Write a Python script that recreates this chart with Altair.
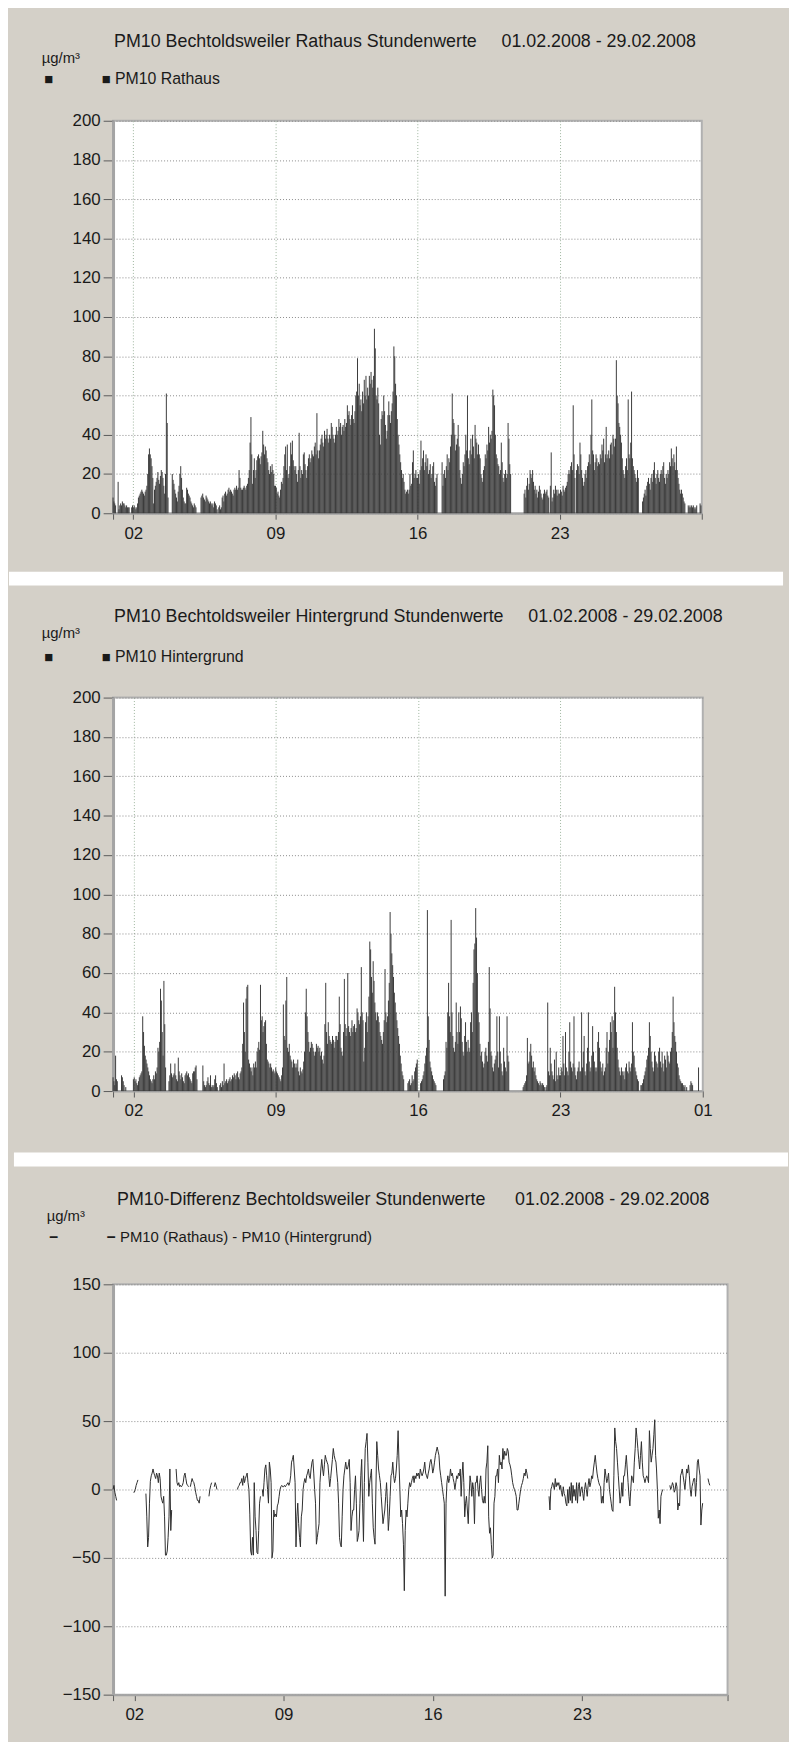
import altair as alt
import pandas as pd

# ---------------- data: hourly values, one list per day (Feb 1 ... Feb 29, 2008) ----------------
N = None
RATHAUS = [
    [8,6,5,4,N,N,16,2,4,5,4,6,5,5,4,3,4,3,3,3,N,N,3,4],
    [3,4,3,2,3,5,8,9,10,11,12,11,10,9,11,12,14,20,30,33,30,28,24,18],
    [5,12,14,16,18,21,17,15,19,22,21,18,14,10,20,61,46,8,N,N,N,N,20,17],
    [15,12,10,8,6,11,14,20,24,18,12,8,6,5,5,13,12,10,9,8,6,5,4,3],
    [5,4,3,N,N,N,N,N,8,9,10,8,7,6,9,8,7,6,5,6,5,4,5,3],
    [6,5,4,2,N,3,4,2,3,8,9,6,10,11,9,10,12,13,11,12,11,10,9,12],
    [13,12,14,12,13,22,18,13,12,12,13,14,13,12,14,15,18,22,36,49,30,15,22,28],
    [18,22,27,29,30,28,25,29,31,42,35,30,34,32,28,26,22,20,24,21,25,22,20,14],
    [14,13,10,11,9,8,12,16,15,18,24,30,34,22,35,18,20,24,36,30,37,27,24,22],
    [24,20,16,22,41,24,18,22,20,30,31,25,22,18,24,28,30,26,28,32,30,29,34,36],
    [30,51,32,28,32,35,38,40,36,34,42,38,40,43,38,36,40,38,46,44,40,38,36,40],
    [44,40,42,48,44,46,40,44,45,42,48,44,46,55,50,52,48,45,50,55,48,46,52,60],
    [62,79,60,66,55,58,52,62,56,68,60,70,58,64,60,70,66,72,68,64,70,94,84,60],
    [58,64,56,40,35,48,52,50,60,52,45,38,42,50,57,50,46,52,56,62,85,80,66,60],
    [48,40,35,30,26,22,18,20,16,12,10,11,12,10,12,20,14,15,26,32,18,20,22,18],
    [18,20,15,22,37,24,28,32,22,26,30,24,28,20,22,25,18,20,24,26,16,14,18,20],
    [N,N,N,N,N,26,14,20,22,18,24,30,22,28,26,34,40,61,48,46,40,32,35,38],
    [45,34,22,18,15,20,26,24,30,40,32,60,28,25,32,38,30,40,34,28,45,38,36,30],
    [35,30,28,20,18,16,22,24,30,28,35,32,44,36,40,38,42,63,60,55,40,30,28,25],
    [24,20,22,36,26,18,16,20,22,18,20,46,38,25,20,N,N,N,N,N,N,N,N,N],
    [N,N,N,N,N,N,10,12,8,14,18,12,15,22,20,18,22,16,12,14,10,12,8,11],
    [14,12,10,8,7,10,12,10,11,12,9,8,N,14,31,6,8,12,10,14,12,9,12,10],
    [10,12,11,9,14,12,11,13,14,16,20,22,20,24,26,22,55,30,18,N,22,25,24,20],
    [36,30,22,18,14,16,20,22,18,24,26,30,25,40,58,32,30,22,26,30,28,24,26,25],
    [30,28,35,32,38,26,30,44,28,30,32,28,35,36,30,40,38,34,38,78,60,56,46,44],
    [40,36,28,22,20,18,24,28,22,58,30,28,36,62,28,24,22,20,18,16,22,18,N,N],
    [N,N,6,8,10,12,9,14,16,18,15,12,18,20,16,22,26,18,15,20,22,18,16,20],
    [22,20,24,26,18,15,20,18,22,20,26,24,33,28,24,30,26,22,34,22,18,15,12,10],
    [12,10,8,6,5,N,N,N,4,3,4,3,4,3,4,3,2,3,4,N,N,N,5,4],
]
HINTERGRUND = [
    [7,5,3,18,6,5,N,N,N,N,8,7,5,3,N,2,N,N,N,N,N,N,N,N],
    [6,7,5,6,4,3,5,7,8,9,10,38,30,23,18,16,14,12,10,8,6,5,4,6],
    [8,6,10,9,12,22,20,25,52,46,30,18,56,34,12,N,N,N,5,8,14,9,7,8],
    [9,14,8,6,5,17,10,8,6,9,7,5,4,8,9,10,8,9,7,6,5,4,9,10],
    [10,12,13,6,N,N,N,N,N,N,13,5,3,2,3,5,7,4,3,8,2,3,2,3],
    [6,8,4,2,N,N,3,4,2,5,3,14,4,5,6,4,5,6,7,5,6,8,7,9],
    [8,6,9,10,7,6,9,10,12,24,45,30,20,47,53,54,16,14,12,10,12,8,14,12],
    [15,12,20,22,25,21,54,36,38,30,33,35,36,24,16,15,14,12,14,12,10,11,10,9],
    [12,10,9,8,7,6,5,8,12,44,28,26,46,58,22,20,24,18,16,15,12,16,14,12],
    [14,12,16,10,8,12,10,9,11,15,20,40,52,38,30,25,20,22,25,24,22,20,18,20],
    [24,22,23,20,22,18,20,16,14,18,34,55,30,24,35,28,26,25,24,28,26,22,25,28],
    [28,26,30,48,34,22,20,18,30,57,34,28,32,60,33,30,28,32,36,30,33,34,30,32],
    [42,40,36,34,38,63,40,36,15,22,35,40,30,38,48,76,72,58,50,66,56,45,40,36],
    [40,38,35,30,28,26,24,30,36,62,40,35,38,46,55,91,80,70,64,58,50,45,40,36],
    [32,28,24,18,14,10,8,6,N,N,N,N,4,5,6,3,4,8,5,6,10,12,14,16],
    [N,N,N,4,5,6,8,10,14,18,22,92,38,26,15,12,10,8,6,5,4,3,N,N],
    [N,N,N,N,N,N,6,8,10,25,22,40,55,38,30,87,40,28,22,20,25,45,30,24],
    [40,30,43,37,25,20,18,28,35,25,20,26,22,20,35,40,30,55,72,75,93,78,60,40],
    [35,24,18,20,15,12,14,20,22,18,15,25,63,42,20,18,12,10,14,16,18,38,20,12],
    [38,20,14,10,8,22,15,12,10,38,18,15,N,N,N,N,N,N,N,N,N,N,N,N],
    [N,N,N,N,2,3,4,5,8,27,14,15,20,24,18,12,15,10,12,8,6,5,4,3],
    [5,4,3,4,3,2,N,2,3,45,10,8,22,14,10,8,6,16,5,20,8,6,12,8],
    [8,12,10,28,14,8,30,12,10,8,20,35,15,12,10,14,38,12,8,6,10,12,15,10],
    [10,40,12,20,28,10,8,14,22,40,15,10,12,18,33,20,15,12,10,12,25,30,22,15],
    [12,10,14,8,10,12,22,30,14,20,26,35,30,38,22,36,53,40,30,22,16,12,10,8],
    [12,10,8,10,6,12,14,10,9,15,12,10,14,35,20,18,12,10,8,6,5,N,N,3],
    [3,4,6,8,10,12,16,18,22,35,28,20,15,12,10,20,18,15,14,12,20,22,15,12],
    [20,14,10,18,16,12,20,18,15,14,20,22,30,48,35,28,25,20,14,12,8,6,5,4],
    [4,3,2,3,N,2,N,N,N,3,5,4,3,N,N,N,N,N,N,12,N,N,N,N],
]
DIFFERENZ = [
    [0,3,-2,-5,-8,N,N,N,N,-3,N,N,N,N,N,N,N,N,N,N,N,N,N,-2],
    [-2,0,3,5,7,N,N,N,N,N,N,N,N,-3,-20,-42,-35,-10,6,10,12,15,12,10],
    [8,12,10,5,12,8,-5,-8,-10,-5,-20,-48,-48,-45,-35,-20,15,-30,-15,N,N,N,N,15],
    [5,3,5,2,3,2,3,5,10,12,8,4,3,2,N,2,5,8,6,5,2,-2,-5,-8],
    [-8,-10,-5,N,N,N,N,N,N,N,N,N,-5,0,3,5,N,N,2,5,3,0,N,N],
    [N,N,N,N,N,N,N,N,N,N,N,N,N,N,N,N,N,N,N,N,0,2,3,5],
    [5,8,3,10,5,8,10,12,5,0,-18,-45,-48,-35,-48,5,-20,-30,-46,-47,-30,-10,-5,N],
    [0,-5,5,15,18,10,0,-10,20,15,5,-50,-45,-15,-20,-18,-20,-12,-10,-5,0,2,3,2],
    [2,3,2,3,4,5,3,5,10,20,22,25,15,5,-42,-20,-10,-25,-35,-42,-20,-15,0,5],
    [8,5,10,12,15,10,8,15,20,22,12,0,-10,-40,-35,-30,-25,5,15,22,15,10,18,25],
    [22,20,18,10,2,8,15,22,30,25,22,20,12,5,-10,-35,-40,-42,-20,0,10,15,20,15],
    [15,18,22,5,-30,-20,-15,-15,0,10,-10,-38,-35,-30,-10,10,22,-10,-38,5,30,35,41,20],
    [-5,5,10,15,-10,-28,-35,-40,0,35,25,15,10,5,-5,-15,-25,-20,-15,-5,5,-10,-30,-20],
    [-5,10,12,20,10,5,8,15,25,43,20,0,-20,-15,-25,-40,-74,-30,-15,-20,-10,0,5,2],
    [5,8,10,5,10,8,12,10,12,8,15,12,10,12,15,20,12,10,8,12,15,20,22,18],
    [12,15,20,25,28,31,28,25,15,10,5,0,-5,-10,-78,-10,5,10,5,8,15,10,12,8],
    [5,0,5,10,8,12,10,15,-5,10,20,5,-20,-10,-5,-15,-25,-5,10,5,-5,5,0,-25],
    [5,5,10,0,-5,5,10,0,-8,-10,-5,-10,15,20,32,-20,-32,-28,-40,-50,-48,-10,-5,10],
    [10,15,5,25,18,20,15,30,22,28,25,25,30,28,20,18,15,10,5,2,0,-2,-5,-15],
    [-15,-10,-5,0,3,5,8,12,10,15,12,8,N,N,N,N,N,N,N,N,N,N,N,N],
    [N,N,N,N,N,N,N,N,N,N,N,-5,-15,0,2,5,3,0,8,2,5,3,5,0],
    [3,-2,-5,2,-3,-5,-10,-12,0,-10,2,-8,5,-10,3,-5,0,-8,5,-10,2,5,-5,0],
    [2,-3,-8,0,5,0,-5,3,8,2,5,10,8,15,20,25,18,12,8,5,3,2,-10,-5],
    [-10,5,15,10,5,8,12,0,-5,-10,-15,-16,10,45,35,30,20,10,0,-10,-5,5,-5,10],
    [10,18,25,15,5,-5,-12,0,10,8,5,20,30,45,38,30,22,15,25,35,20,10,8,5],
    [8,10,8,5,43,30,20,25,30,40,51,25,15,0,-21,-15,-25,-5,-2,0,N,N,N,N],
    [N,N,N,3,0,2,5,3,-2,0,5,2,-15,-10,-12,10,12,15,10,5,0,8,15,12],
    [18,10,0,-5,2,5,8,8,-5,5,20,22,15,10,-26,-15,-10,N,N,N,N,N,8,5],
    [3,N,N,N,N,N,N,N,N,N,N,N,N,N,N,N,N,N,N,N,N,N,N,N],
]

Y_TICKS_PM = [0, 20, 40, 60, 80, 100, 120, 140, 160, 180, 200]
Y_TICKS_DIFF = [-150, -100, -50, 0, 50, 100, 150]
X_TICK_HOURS = [0, 24, 192, 360, 528, 696]
X_LABELS_1 = ["", "02", "09", "16", "23", ""]
X_LABELS_2 = ["", "02", "09", "16", "23", "01"]
X_TICK_HOURS_3 = [0, 24, 192, 360, 528, 692]
X_LABELS_3 = ["", "02", "09", "16", "23", ""]

TITLE_1 = "PM10 Bechtoldsweiler Rathaus Stundenwerte"
TITLE_2 = "PM10 Bechtoldsweiler Hintergrund Stundenwerte"
TITLE_3 = "PM10-Differenz Bechtoldsweiler Stundenwerte"
PERIOD = "01.02.2008 - 29.02.2008"
UNIT = "µg/m³"
LEGEND_1 = "PM10 Rathaus"
LEGEND_2 = "PM10 Hintergrund"
LEGEND_3 = "PM10 (Rathaus) - PM10 (Hintergrund)"

# ---------------- styling ----------------
FONT = "Liberation Sans"
BG = "#d4d0c8"
TXT = "#1a1a1a"
FRAME = "#a4a4a4"
GAP = "\u00a0\u00a0\u00a0\u00a0 "
GAP3 = "\u00a0\u00a0\u00a0\u00a0\u00a0 "


def flat(days):
    return [v for day in days for v in day]


def bar_frame(days):
    vals = flat(days)
    rows = [{"stunde": i, "wert": v} for i, v in enumerate(vals) if v is not None]
    return pd.DataFrame(rows)


def line_frame(days):
    vals = flat(days)
    rows, seg = [], 0
    for i, v in enumerate(vals):
        if v is None:
            seg += 1
            continue
        rows.append({"stunde": i, "wert": v, "abschnitt": seg})
    return pd.DataFrame(rows)


def label_expr(hours, labels):
    parts = " : ".join(f"datum.value == {h} ? '{l}'" for h, l in zip(hours, labels))
    return parts + " : ''"


ONE = pd.DataFrame({"k": [0]})


def txt(x, y, s, size=17, align="left", weight="normal"):
    return alt.Chart(ONE).mark_text(
        align=align, baseline="middle", fontSize=size, font=FONT, color=TXT,
        fontWeight=weight,
    ).encode(x=alt.value(x), y=alt.value(y), text=alt.value(s))


def box(x, x2, y, y2, fill, opacity=1):
    return alt.Chart(ONE).mark_rect(fill=fill, opacity=opacity, strokeWidth=0).encode(
        x=alt.value(x), x2=alt.value(x2), y=alt.value(y), y2=alt.value(y2))


def x_axis(hours, labels, grid, end):
    kw = dict(
        values=hours, labelExpr=label_expr(hours, labels), title="",
        domainColor=FRAME, domainWidth=2, tickColor="#5a5a5a", tickSize=6,
        labelPadding=6, labelFontSize=17, labelFont=FONT, labelColor=TXT,
        labelFlush=False, labelOverlap=False, grid=grid,
    )
    if grid:
        kw.update(gridColor="#9db49d", gridDash=[1, 2], gridWidth=1,
                  gridOpacity=alt.condition(f"datum.value == 0 || datum.value == {end}",
                                            alt.value(0), alt.value(1)))
    return alt.Axis(**kw)


def y_axis(values):
    return alt.Axis(
        values=values, title="", grid=True, gridColor="#8a8a8a", gridDash=[1, 2],
        gridWidth=1, domainColor=FRAME, domainWidth=3, tickColor="#5a5a5a",
        tickSize=10, labelPadding=3, labelFontSize=17, labelFont=FONT,
        labelColor=TXT,
    )


VIEW = alt.ViewBackground(fill="white", stroke="#b0b0b0", strokeWidth=2)


def header(title, unit_y, title_y, legend_y, marker, legend, marker_size):
    return [
        txt(1, title_y, title + GAP + PERIOD, size=18),
        txt(-72, unit_y, UNIT, size=15),
        txt(-65, legend_y, marker, size=marker_size, align="center"),
        txt(-7, legend_y, marker, size=marker_size, align="center"),
        txt(2, legend_y, legend, size=16),
    ]


def pm_panel(days, title, legend, labels, w, h, hdr, region):
    bars = alt.Chart(bar_frame(days)).mark_rule(strokeWidth=1, color="#3b3b3b").encode(
        x=alt.X("stunde:Q", scale=alt.Scale(domain=[0, 696], nice=False, zero=False),
                axis=x_axis(X_TICK_HOURS, labels, True, 696)),
        y=alt.Y("wert:Q", scale=alt.Scale(domain=[0, 200], nice=False),
                axis=y_axis(Y_TICKS_PM)),
        y2=alt.datum(0),
    )
    t_y, u_y, l_y = hdr
    layers = region + header(title, u_y, t_y, l_y, "■", legend, 15) + [bars]
    return alt.layer(*layers).properties(width=w, height=h, view=VIEW)


# panel 1 (Rathaus): gray region around the plot
p1 = pm_panel(RATHAUS, TITLE_1, LEGEND_1, X_LABELS_1, 594, 396, (-79, -63, -42),
              [box(-105, 676, -105, 453, BG, 0)])
# panel 2 (Hintergrund): white separator on top, then gray region
p2 = pm_panel(HINTERGRUND, TITLE_2, LEGEND_2, X_LABELS_2, 595, 397, (-81, -65, -41),
              [box(-105, 676, -127, 457, BG, 0), box(-105, 676, -127, -113, "white")])

# panel 3 (Differenz): white separator on top, then gray region
diff_line = alt.Chart(line_frame(DIFFERENZ)).mark_line(strokeWidth=1, color="#2e2e2e").encode(
    x=alt.X("stunde:Q", scale=alt.Scale(domain=[0, 692], nice=False, zero=False),
            axis=x_axis(X_TICK_HOURS_3, X_LABELS_3, False, 692)),
    y=alt.Y("wert:Q", scale=alt.Scale(domain=[-150, 150], nice=False, zero=False),
            axis=y_axis(Y_TICKS_DIFF)),
    detail="abschnitt:N",
)
p3_layers = [box(-100, 681, -133, 453, BG, 0), box(-100, 681, -133, -119, "white")]
p3_layers += [
    txt(4, -85, TITLE_3 + GAP3 + PERIOD, size=18),
    txt(-67, -69, UNIT, size=15),
    txt(-60, -48, "–", size=16, align="center", weight="bold"),
    txt(-2, -48, "–", size=16, align="center", weight="bold"),
    txt(7, -48, LEGEND_3, size=15),
    diff_line,
]
p3 = alt.layer(*p3_layers).properties(width=620, height=414, view=VIEW)

chart = alt.vconcat(p1, p2, p3, spacing=0).properties(
    padding=0
).configure(background=BG, font=FONT)

chart.save("out.html", embed_options={"renderer": "svg", "actions": False})
